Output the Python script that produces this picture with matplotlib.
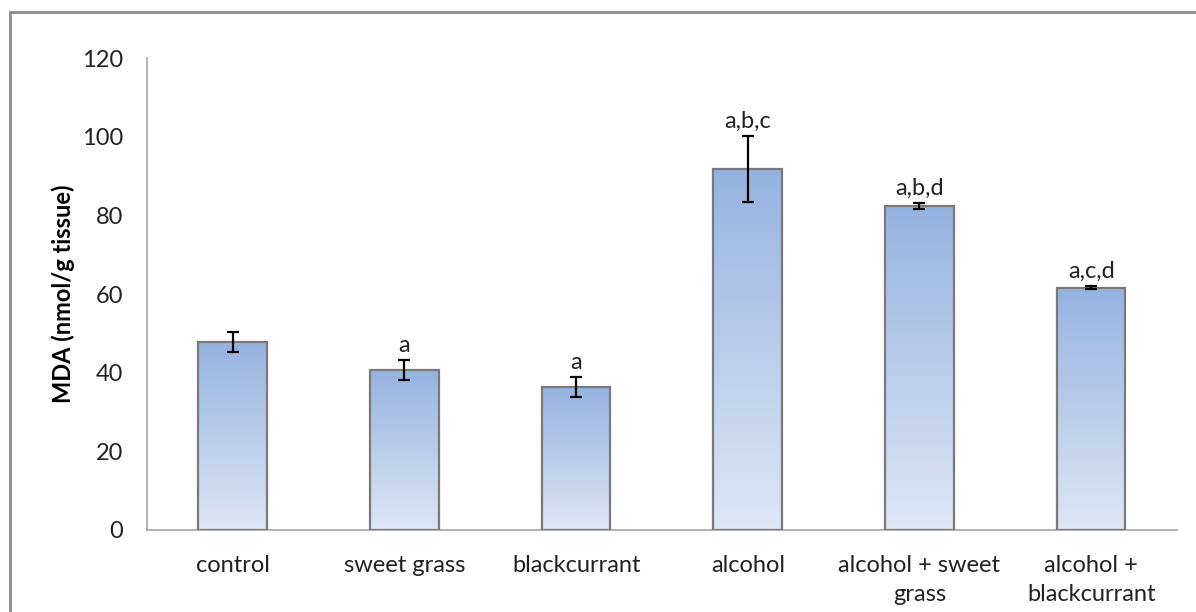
import numpy as np
import matplotlib.pyplot as plt
from matplotlib.patches import Rectangle
from matplotlib.colors import LinearSegmentedColormap

# data
groups = ["control", "sweet grass", "blackcurrant", "alcohol",
          "alcohol + sweet\ngrass", "alcohol +\nblackcurrant"]
mda = [47.8, 40.7, 36.4, 91.8, 82.4, 61.6]
err = [2.5, 2.5, 2.5, 8.3, 0.8, 0.4]
sig = ["", "a", "a", "a,b,c", "a,b,d", "a,c,d"]

plt.rcParams['font.family'] = ['Lato', 'DejaVu Sans']
fs = 17

fig = plt.figure(figsize=(11.96, 6.12), dpi=100)
ax = fig.add_axes([0.1229, 0.134, 0.8612, 0.7712])

# outer chart frame (cut at right and bottom like the original)
fig.patches.append(Rectangle((10 / 1196, -0.05), 1.2, 1 - 12 / 612 + 0.05,
                             transform=fig.transFigure, fill=False,
                             edgecolor="#8c8c8c", linewidth=2))

x = np.arange(len(groups))
bars = ax.bar(x, mda, width=0.4, facecolor="none", edgecolor="#7a7a7a",
              linewidth=1.6, zorder=3)

# vertical gradient fill inside each bar
cmap = LinearSegmentedColormap.from_list("blu", ["#dfe6f4", "#95b3e0"])
grad = np.linspace(0, 1, 256).reshape(-1, 1)
for b in bars:
    x0, w, h = b.get_x(), b.get_width(), b.get_height()
    im = ax.imshow(grad, extent=[x0, x0 + w, 0, h], origin="lower",
                   cmap=cmap, aspect="auto", zorder=2)
    im.set_clip_path(b)

ax.errorbar(x, mda, yerr=err, fmt="none", ecolor="black", elinewidth=1.6,
            capsize=4, capthick=1.6, zorder=4)

for xi, v, e, s in zip(x, mda, err, sig):
    if s:
        ax.annotate(s, (xi, v + e), xytext=(0, 3), textcoords="offset points",
                    ha="center", va="bottom", fontsize=fs, color="#222222")

ax.set_xlim(-0.5, len(groups) - 0.5)
ax.set_ylim(0, 120)
ax.set_yticks(range(0, 121, 20))
ax.set_xticks(x)
ax.set_xticklabels(groups, fontsize=fs, linespacing=1.5, color="#222222")
ax.tick_params(axis="y", length=0, pad=17, labelsize=fs, labelcolor="#222222")
ax.tick_params(axis="x", length=0, pad=18)
ax.set_ylabel("MDA (nmol/g tissue)", fontsize=fs, fontweight="bold", labelpad=5)

for s in ["top", "right"]:
    ax.spines[s].set_visible(False)
for s in ["left", "bottom"]:
    ax.spines[s].set_color("#a6a6a6")
    ax.spines[s].set_linewidth(1.2)

fig.savefig("out.png", dpi=100)
